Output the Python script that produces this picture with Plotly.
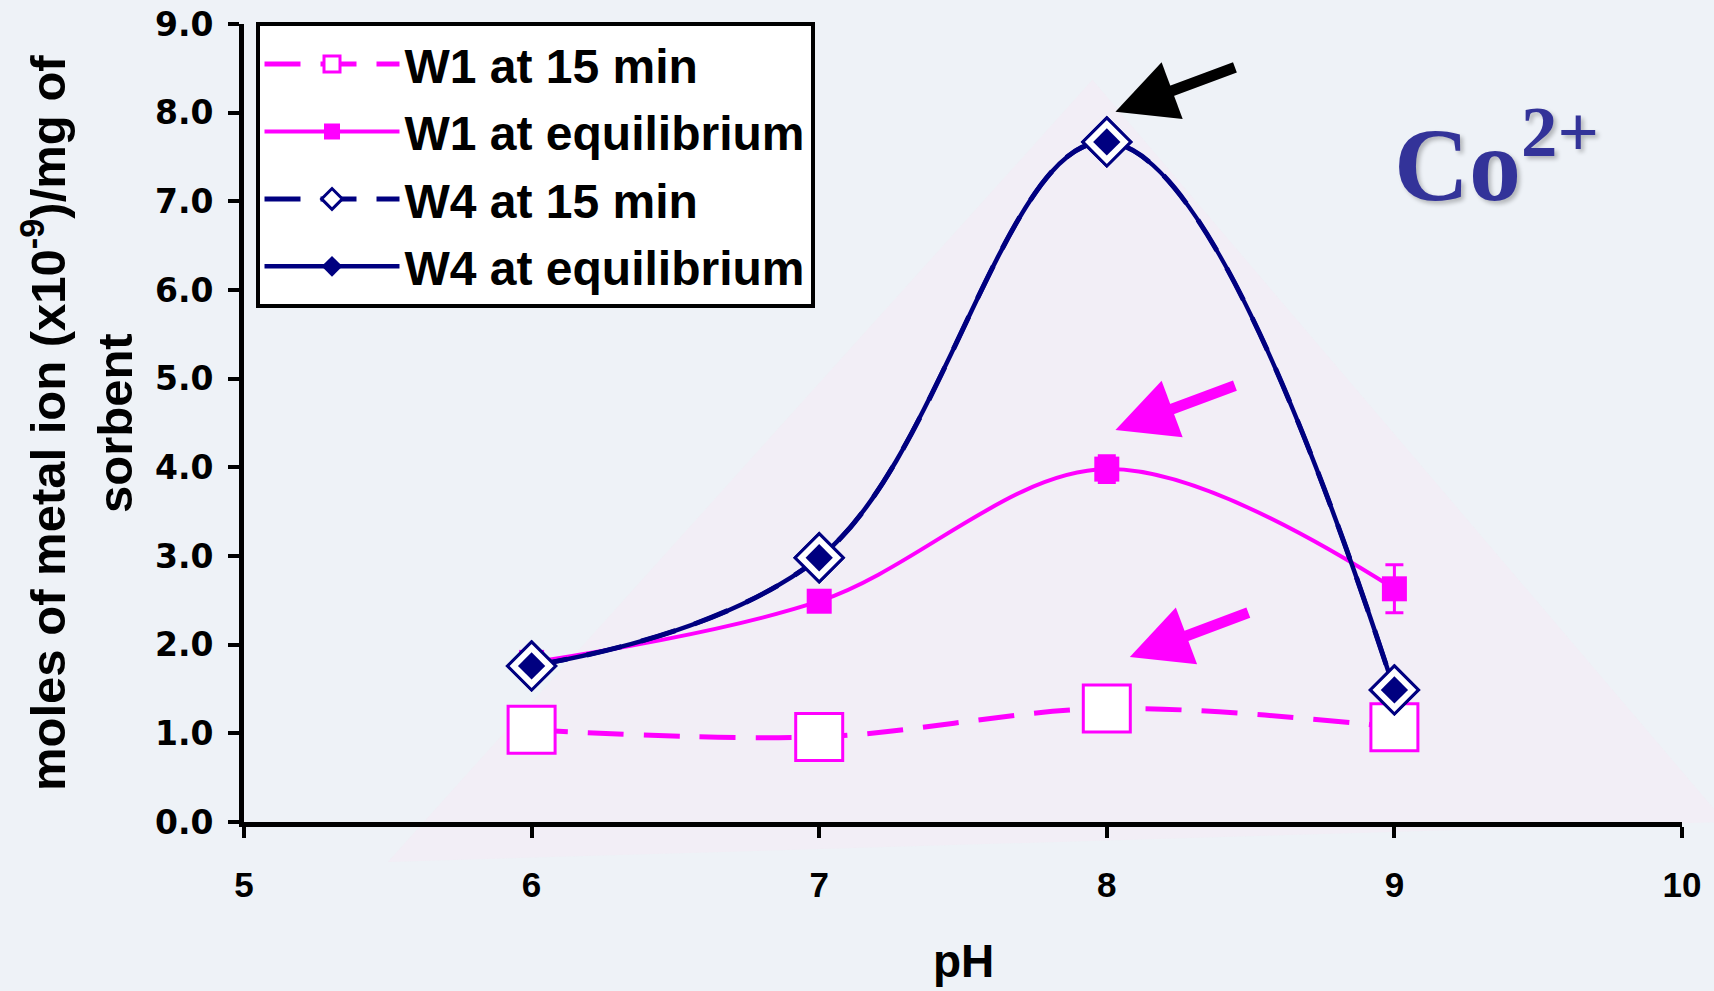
import plotly.graph_objects as go

# ---- data ----
ph = [6, 7, 8, 9]
w1_15min = [1.04, 0.96, 1.28, 1.07]
w1_equil = [1.80, 2.49, 3.98, 2.63]
w1_equil_err = [0.05, 0.05, 0.15, 0.27]
w4_15min = [1.76, 2.98, 7.67, 1.49]
w4_equil = [1.76, 2.98, 7.67, 1.49]

x_ticks = [5, 6, 7, 8, 9, 10]
y_ticks = [0, 1, 2, 3, 4, 5, 6, 7, 8, 9]

MAG = "#ff00ff"
NAVY = "#000080"
SANS = "Liberation Sans, Arial, sans-serif"

fig = go.Figure()

fig.add_trace(go.Scatter(
    x=ph, y=w1_15min, name="W1 at 15 min", mode="lines+markers",
    line=dict(color=MAG, width=5, dash="36px,20px", shape="spline", smoothing=1),
    marker=dict(symbol="square", size=47, color="white", line=dict(color=MAG, width=3)),
    legendgroup="a",
))
fig.add_trace(go.Scatter(
    x=ph, y=w1_equil, name="W1 at equilibrium", mode="lines+markers",
    line=dict(color=MAG, width=4, shape="spline", smoothing=1),
    marker=dict(symbol="square", size=25, color=MAG),
    error_y=dict(type="data", array=w1_equil_err, color=MAG, thickness=3, width=9),
    legendgroup="b",
))
fig.add_trace(go.Scatter(
    x=ph, y=w4_15min, name="W4 at 15 min", mode="lines+markers",
    line=dict(color=NAVY, width=5, dash="36px,20px", shape="spline", smoothing=1.1),
    marker=dict(symbol="diamond", size=37, color="white", line=dict(color=NAVY, width=3)),
    legendgroup="c",
))
fig.add_trace(go.Scatter(
    x=ph, y=w4_equil, name="W4 at equilibrium", mode="lines+markers",
    line=dict(color=NAVY, width=4.5, shape="spline", smoothing=1.1),
    marker=dict(symbol="diamond", size=21, color=NAVY),
    legendgroup="d",
))
# markers again on top so the curves do not cross the open diamonds
fig.add_trace(go.Scatter(
    x=ph, y=w4_15min, mode="markers", showlegend=False, hoverinfo="skip",
    marker=dict(symbol="diamond", size=37, color="white", line=dict(color=NAVY, width=3)),
))
fig.add_trace(go.Scatter(
    x=ph, y=w4_equil, mode="markers", showlegend=False, hoverinfo="skip",
    marker=dict(symbol="diamond", size=21, color=NAVY),
))

title_font = dict(family=SANS, size=49, color="black", weight="bold")
annotations = [
    # y-axis title (two lines)
    dict(text="moles of metal ion (x10<sup>-9</sup>)/mg of",
         xref="paper", yref="paper", x=(44 - 244) / 1438, y=0.5,
         xanchor="center", yanchor="middle", textangle=-90, showarrow=False,
         font=title_font),
    dict(text="sorbent",
         xref="paper", yref="paper", x=(115 - 244) / 1438, y=0.5,
         xanchor="center", yanchor="middle", textangle=-90, showarrow=False,
         font=title_font),
    # x-axis title
    dict(text="pH", xref="paper", yref="paper", x=0.5, y=(822 - 961) / 798,
         xanchor="center", yanchor="middle", showarrow=False,
         font=dict(family=SANS, size=46, color="black", weight="bold")),
    # ion label
    dict(text="Co<sup>2+</sup>", xref="paper", yref="paper", x=0.798, y=0.834,
         xanchor="left", yanchor="middle", showarrow=False,
         font=dict(family="Liberation Serif, Times New Roman, serif", size=104,
                   color="#333399", weight="bold", shadow="3px 3px 4px rgba(0,0,0,0.25)")),
    # arrows
    dict(text="", x=8.03, y=8.01, xref="x", yref="y", ax=121, ay=-45,
         showarrow=True, arrowhead=2, arrowwidth=11, arrowsize=1.1, arrowcolor="black"),
    dict(text="", x=8.03, y=4.42, xref="x", yref="y", ax=121, ay=-45,
         showarrow=True, arrowhead=2, arrowwidth=11, arrowsize=1.1, arrowcolor=MAG),
    dict(text="", x=8.08, y=1.86, xref="x", yref="y", ax=120, ay=-45,
         showarrow=True, arrowhead=2, arrowwidth=11, arrowsize=1.1, arrowcolor=MAG),
]

shapes = [
    dict(type="path", xref="paper", yref="paper", layer="below",
         path="M 0.59 0.93 L 1.03 0.0 L 0.1 -0.05 Z",
         fillcolor="rgba(246,232,243,0.45)", line=dict(width=0)),
]

fig.update_layout(
    width=1714, height=991,
    margin=dict(l=244, r=32, t=24, b=169, autoexpand=False),
    paper_bgcolor="#eef2f7",
    plot_bgcolor="rgba(0,0,0,0)",
    showlegend=True,
    legend=dict(
        x=0.008, y=1.002, xanchor="left", yanchor="top",
        bgcolor="white", bordercolor="black", borderwidth=4,
        font=dict(family=SANS, size=48, color="black", weight="bold"),
        itemwidth=135, tracegroupgap=2,
    ),
    xaxis=dict(
        range=[5, 10], tickvals=x_ticks, ticktext=[str(v) for v in x_ticks],
        showline=True, linewidth=5, linecolor="black",
        ticks="outside", ticklen=11, tickwidth=4, tickcolor="black",
        showgrid=False, zeroline=False, ticklabelstandoff=17, automargin=False,
        tickfont=dict(family=SANS, size=35, color="black", weight="bold"),
    ),
    yaxis=dict(
        range=[0, 9], tickvals=y_ticks, ticktext=[f"{v:.1f}" for v in y_ticks],
        showline=True, linewidth=5, linecolor="black",
        ticks="outside", ticklen=11, tickwidth=4, tickcolor="black",
        showgrid=False, zeroline=False, ticklabelstandoff=8, automargin=False,
        tickfont=dict(family="DejaVu Sans, sans-serif", size=33, color="black", weight="bold"),
    ),
    annotations=annotations,
    shapes=shapes,
)

fig.write_html("out.html")
